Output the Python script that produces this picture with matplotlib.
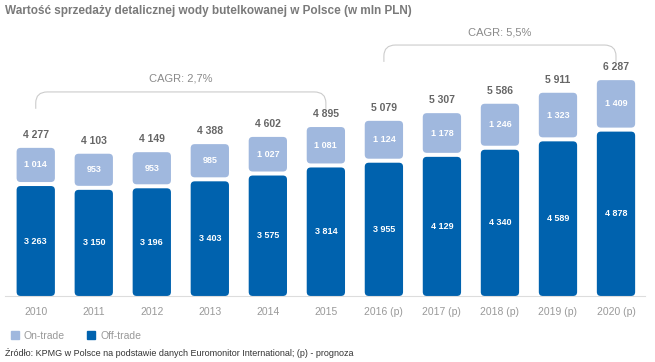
import matplotlib.pyplot as plt
from matplotlib.patches import FancyBboxPatch, PathPatch
from matplotlib.path import Path
from matplotlib.lines import Line2D

plt.rcParams['font.family'] = ['Liberation Sans', 'DejaVu Sans']

# Data
years = ['2010', '2011', '2012', '2013', '2014', '2015',
         '2016 (p)', '2017 (p)', '2018 (p)', '2019 (p)', '2020 (p)']
off_trade = [3263, 3150, 3196, 3403, 3575, 3814, 3955, 4129, 4340, 4589, 4878]
on_trade = [1014, 953, 953, 985, 1027, 1081, 1124, 1178, 1246, 1323, 1409]
totals = [4277, 4103, 4149, 4388, 4602, 4895, 5079, 5307, 5586, 5911, 6287]
cagr_labels = ['CAGR: 2,7%', 'CAGR: 5,5%']
cagr_ranges = [(0, 5), (6, 10)]

c_off = '#0062AE'
c_on = '#A0B8DE'
grey = '#7a7a7a'


def fmt(v):
    return f'{v:,}'.replace(',', ' ')


fig = plt.figure(figsize=(6.55, 3.62), dpi=100)
W, H = 655, 362
ax = fig.add_axes([5 / W, (H - 296) / H, 640 / W, 276 / H])

px_per_unit = 0.0337
ymax = 276 / px_per_unit
ax.set_xlim(-0.53, 10.5)
ax.set_ylim(0, ymax)

bw = 0.66
gap = 4 / px_per_unit
rx = 0.07
aspect = 58 / px_per_unit

for i, (off, on, tot) in enumerate(zip(off_trade, on_trade, totals)):
    x0 = i - bw / 2
    p1 = FancyBboxPatch((x0, 0), bw, off,
                        boxstyle=f'round,pad=0,rounding_size={rx}',
                        mutation_aspect=aspect, fc=c_off, ec='none')
    ax.add_patch(p1)
    p2 = FancyBboxPatch((x0, off + gap), bw, on,
                        boxstyle=f'round,pad=0,rounding_size={rx}',
                        mutation_aspect=aspect, fc=c_on, ec='none')
    ax.add_patch(p2)
    ax.text(i, off / 2, fmt(off), ha='center', va='center', color='white',
            fontsize=6.5, fontweight='bold')
    ax.text(i, off + gap + on / 2, fmt(on), ha='center', va='center',
            color='white', fontsize=6.5, fontweight='bold')
    ax.text(i, off + gap + on + 8 / px_per_unit, fmt(tot), ha='center',
            va='bottom', color='#666666', fontsize=7.5, fontweight='bold')

# CAGR brackets
for label, (a, b) in zip(cagr_labels, cagr_ranges):
    top = max(totals[a:b + 1]) + 1160
    end = top - 500
    rxx = 0.2
    ry = 11 / px_per_unit
    verts = [(a, end), (a, top - ry), (a, top), (a + rxx, top),
             (b - rxx, top), (b, top), (b, top - ry), (b, end)]
    codes = [Path.MOVETO, Path.LINETO, Path.CURVE3, Path.CURVE3,
             Path.LINETO, Path.CURVE3, Path.CURVE3, Path.LINETO]
    ax.add_patch(PathPatch(Path(verts, codes), fc='none', ec='#cccccc', lw=0.8))
    ax.text((a + b) / 2, top + 8 / px_per_unit, label, ha='center',
            va='bottom', color='#8a8a8a', fontsize=8)

ax.set_xticks(range(len(years)))
ax.set_xticklabels(years, fontsize=7.5, color='#999999')
ax.tick_params(axis='x', length=0, pad=8)
ax.set_yticks([])
for s in ['top', 'right', 'left']:
    ax.spines[s].set_visible(False)
ax.spines['bottom'].set_color('#dddddd')
ax.spines['bottom'].set_linewidth(0.8)

fig.text(5 / W, 1 - 11 / H,
         'Wartość sprzedaży detalicznej wody butelkowanej w Polsce (w mln PLN)',
         ha='left', va='center', fontsize=8.5, fontweight='bold', color=grey)

handles = [Line2D([], [], marker='s', ls='none', color=c_on, markersize=5.5),
           Line2D([], [], marker='s', ls='none', color=c_off, markersize=5.5)]
fig.legend(handles, ['On-trade', 'Off-trade'], loc='center left',
           bbox_to_anchor=(0, 1 - 336 / H), ncol=2, frameon=False,
           fontsize=7.5, labelcolor='#999999', handletextpad=0.4,
           columnspacing=2.0, handlelength=1.0)

fig.text(5 / W, 1 - 353 / H,
         'Źródło: KPMG w Polsce na podstawie danych Euromonitor International; (p) - prognoza',
         ha='left', va='center', fontsize=6.5, color='#333333')

fig.savefig('out.png', dpi=100)
